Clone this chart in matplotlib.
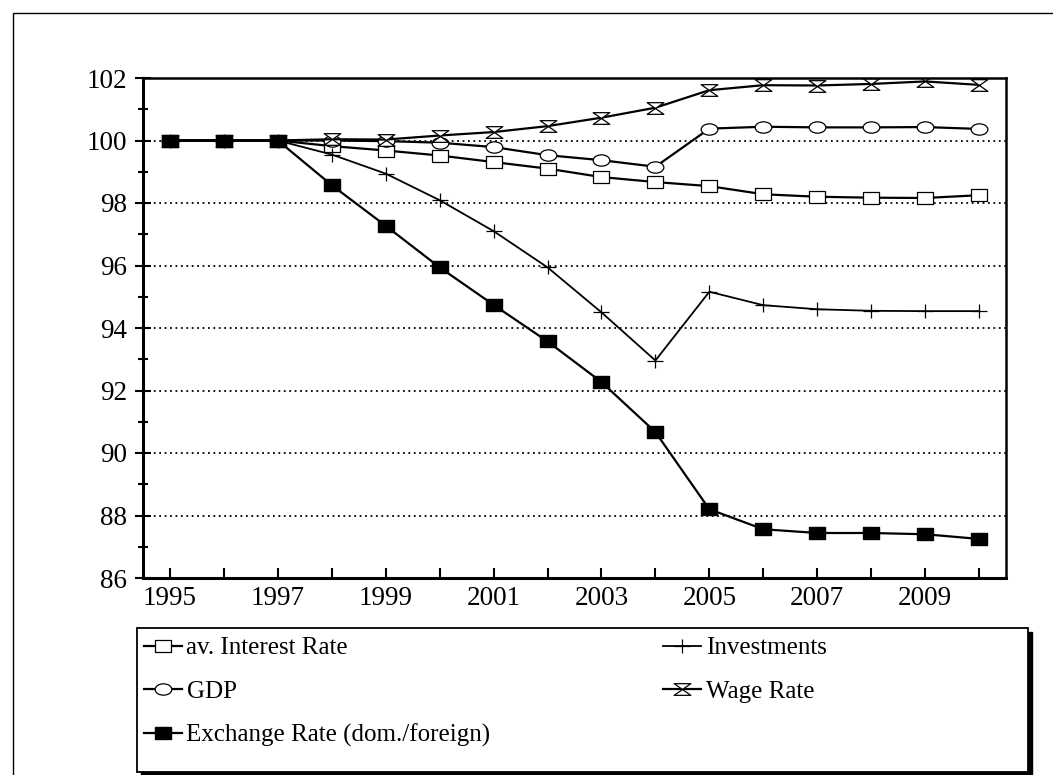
import matplotlib
matplotlib.use('Agg')
import matplotlib.pyplot as plt
from matplotlib.path import Path
from matplotlib.patches import Rectangle
from matplotlib.ticker import MultipleLocator
import numpy as np

# Datos (indice, 1995 = 100)
anios = list(range(1995, 2011))
tasa_interes = [100, 100, 100, 99.82, 99.68, 99.52, 99.31, 99.10, 98.83, 98.67,
                98.54, 98.28, 98.20, 98.17, 98.16, 98.25]
inversiones = [100, 100, 100, 99.55, 98.94, 98.09, 97.10, 95.94, 94.50, 92.96,
               95.16, 94.73, 94.60, 94.55, 94.54, 94.54]
pib = [100, 100, 100, 100.0, 99.98, 99.93, 99.79, 99.53, 99.37, 99.16,
       100.38, 100.44, 100.42, 100.42, 100.43, 100.37]
salario = [100, 100, 100, 100.04, 100.03, 100.16, 100.27, 100.46, 100.73, 101.05,
           101.61, 101.77, 101.76, 101.81, 101.89, 101.78]
tipo_cambio = [100, 100, 100, 98.57, 97.27, 95.94, 94.74, 93.57, 92.27, 90.67,
               88.20, 87.56, 87.44, 87.44, 87.40, 87.25]

etiquetas = ['av. Interest Rate', 'GDP', 'Exchange Rate (dom./foreign)',
             'Investments', 'Wage Rate']

plt.rcParams['font.family'] = ['Liberation Serif', 'DejaVu Serif']

# Marcadores achatados (el original esta estirado en horizontal)
rect = Path([(-1, -0.68), (1, -0.68), (1, 0.68), (-1, 0.68), (-1, -0.68)],
            [Path.MOVETO, Path.LINETO, Path.LINETO, Path.LINETO, Path.CLOSEPOLY])
cuad = Path([(-1, -0.85), (1, -0.85), (1, 0.85), (-1, 0.85), (-1, -0.85)],
            [Path.MOVETO, Path.LINETO, Path.LINETO, Path.LINETO, Path.CLOSEPOLY])
c = Path.unit_circle()
elipse = Path(c.vertices * np.array([1.0, 0.68]), c.codes)
reloj = Path([(-1, 0.7), (1, 0.7), (-1, -0.7), (1, -0.7), (-1, 0.7)],
             [Path.MOVETO, Path.LINETO, Path.LINETO, Path.LINETO, Path.CLOSEPOLY])
cruz = Path([(-1, 0), (1, 0), (0, -0.8), (0, 0.8)],
            [Path.MOVETO, Path.LINETO, Path.MOVETO, Path.LINETO])

fig = plt.figure(figsize=(10.53, 7.75), dpi=100)
ax = fig.add_axes([143/1053, 1 - 578/775, (1006 - 143)/1053, (578 - 78)/775])

lw = 1.6
h1, = ax.plot(anios, tasa_interes, color='black', lw=lw, marker=rect, ms=12,
              mfc='white', mec='black', mew=0.9)
h4, = ax.plot(anios, inversiones, color='black', lw=1.3, marker=cruz, ms=12,
              mec='black', mew=0.9)
h2, = ax.plot(anios, pib, color='black', lw=lw, marker=elipse, ms=12,
              mfc='white', mec='black', mew=0.9)
h5, = ax.plot(anios, salario, color='black', lw=lw, marker=reloj, ms=12,
              mfc='white', mec='black', mew=0.9)
h3, = ax.plot(anios, tipo_cambio, color='black', lw=lw, marker=cuad, ms=11,
              mfc='black', mec='black', zorder=5)

ax.set_xlim(1994.5, 2010.5)
ax.set_ylim(86, 102)
ax.set_xticks(anios)
ax.set_xticklabels([str(a) if (a - 1995) % 2 == 0 else '' for a in anios])
ax.yaxis.set_major_locator(MultipleLocator(2))
ax.yaxis.set_minor_locator(MultipleLocator(1))
ax.tick_params(axis='x', direction='in', length=7, width=1.5, labelsize=19.5, pad=6)
ax.tick_params(axis='y', which='major', direction='inout', length=11, width=1.5,
               labelsize=19.5, pad=6)
ax.tick_params(axis='y', which='minor', direction='inout', length=7, width=1.5)

for y in range(88, 102, 2):
    ax.axhline(y, color='black', lw=1.3, ls=(0, (1, 2)), zorder=1)

for lado in ['left', 'bottom']:
    ax.spines[lado].set_linewidth(2.2)
for lado in ['top', 'right']:
    ax.spines[lado].set_linewidth(1.8)

# Marco exterior (cortado a la derecha y abajo)
fig.add_artist(Rectangle((13/1053, -0.2), 1.2, 1.2 - 13/775,
                         transform=fig.transFigure, fill=False, lw=1.0,
                         edgecolor='black'))

# Caja de la leyenda con sombra
lx0, lx1 = 137/1053, 1028/1053
ly0, ly1 = 1 - 772/775, 1 - 628/775
fig.add_artist(Rectangle((lx0 + 4/1053, ly0 - 4/775), lx1 - lx0, ly1 - ly0,
                         transform=fig.transFigure, facecolor='black',
                         edgecolor='black', lw=1.0))
fig.add_artist(Rectangle((lx0, ly0), lx1 - lx0, ly1 - ly0,
                         transform=fig.transFigure, facecolor='white',
                         edgecolor='black', lw=1.3))

leg = fig.legend([h1, h2, h3, h4, h5], etiquetas, ncol=2, loc='upper left',
                 bbox_to_anchor=(lx0 + 2/1053, ly1 - 4/775), frameon=False,
                 fontsize=18, handlelength=1.5, handletextpad=0.2,
                 columnspacing=6.9, labelspacing=0.83, borderaxespad=0,
                 borderpad=0.2)

fig.savefig('out.png', dpi=100)
